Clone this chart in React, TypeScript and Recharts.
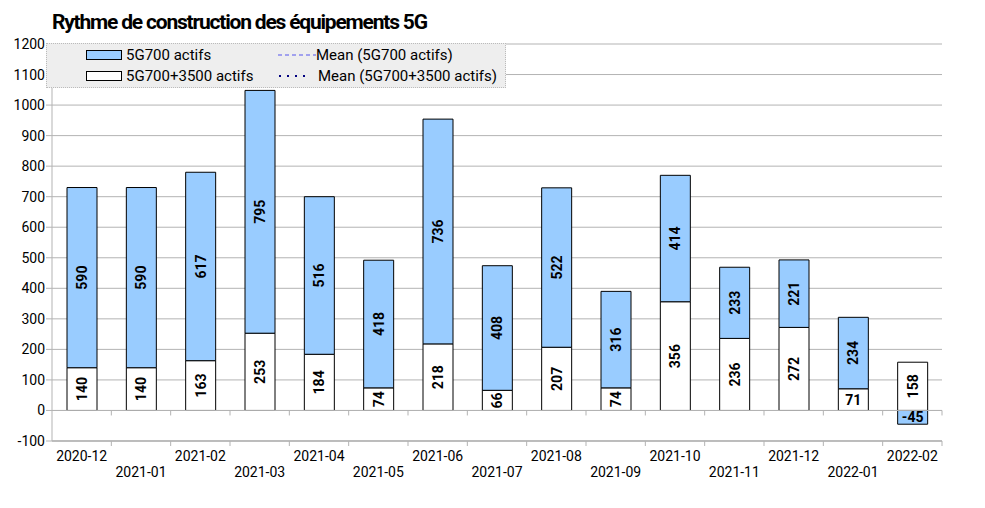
import React from "react";
import {
  BarChart,
  Bar,
  XAxis,
  YAxis,
  CartesianGrid,
  LabelList,
  ReferenceLine,
} from "recharts";

const months = [
  "2020-12", "2021-01", "2021-02", "2021-03", "2021-04", "2021-05", "2021-06", "2021-07",
  "2021-08", "2021-09", "2021-10", "2021-11", "2021-12", "2022-01", "2022-02",
];
const actifs5G700_3500 = [140, 140, 163, 253, 184, 74, 218, 66, 207, 74, 356, 236, 272, 71, 158];
const actifs5G700 = [590, 590, 617, 795, 516, 418, 736, 408, 522, 316, 414, 233, 221, 234, -45];
const yTicks = [-100, 0, 100, 200, 300, 400, 500, 600, 700, 800, 900, 1000, 1100, 1200];

const data = months.map((m, i) => ({
  month: m,
  both: actifs5G700_3500[i],
  g700: actifs5G700[i],
}));

const FONT = "Roboto, 'Liberation Sans', sans-serif";
const GRID = "#b3b3b3";

function MonthTick(props: any) {
  const { x, y, payload, index } = props;
  const dy = index % 2 === 1 ? 29 : 13;
  return (
    <text x={x} y={y + dy} textAnchor="middle" fontSize={14} fontFamily={FONT} fill="#000">
      {payload.value}
    </text>
  );
}

// line with small tick marks between the categories (as LibreOffice draws them)
function BoundaryTicks(props: any) {
  const { x1, x2, y1 } = props;
  const step = (x2 - x1) / months.length;
  return (
    <g>
      <line x1={x1} y1={y1} x2={x2} y2={y1} stroke={GRID} />
      {months.map((m, k) => (
        <line key={m} x1={x1 + (k + 1) * step} y1={y1} x2={x1 + (k + 1) * step} y2={y1 + 5} stroke={GRID} />
      ))}
    </g>
  );
}

// the two labels that the original keeps flat: 71 (2022-01) and -45 (2022-02)
function ValueLabel(props: any) {
  const { x, y, width, height, value, index, flatMonth } = props;
  const cx = x + width / 2;
  const cy = y + height / 2;
  const flat = months[index] === flatMonth;
  return (
    <text
      x={cx}
      y={cy}
      textAnchor="middle"
      dominantBaseline="central"
      fontSize={14}
      fontWeight="bold"
      fontFamily={FONT}
      fill="#000"
      transform={flat ? undefined : `rotate(-90 ${cx} ${cy})`}
    >
      {value}
    </text>
  );
}

function LegendBox() {
  const row: React.CSSProperties = { position: "absolute", display: "flex", alignItems: "center" };
  const txt: React.CSSProperties = { fontSize: 15, fontFamily: FONT, color: "#000", whiteSpace: "nowrap" };
  return (
    <div
      style={{
        position: "absolute",
        left: 46,
        top: 43,
        width: 460,
        height: 45,
        background: "#eeeeee",
        border: "1px dotted #bbbbbb",
        boxSizing: "border-box",
      }}
    >
      <div style={{ ...row, left: 39, top: 2 }}>
        <div style={{ width: 34, height: 8, background: "#99ccff", border: "1px solid #000", marginRight: 4 }} />
        <span style={txt}>5G700 actifs</span>
      </div>
      <div style={{ ...row, left: 39, top: 23 }}>
        <div style={{ width: 34, height: 8, background: "#fff", border: "1px solid #000", marginRight: 4 }} />
        <span style={txt}>5G700+3500 actifs</span>
      </div>
      <div style={{ ...row, left: 231, top: 2 }}>
        <svg width={38} height={10}>
          <line x1={0} y1={5} x2={38} y2={5} stroke="#5555ee" strokeDasharray="4 3" strokeWidth={1} />
        </svg>
        <span style={txt}>Mean (5G700 actifs)</span>
      </div>
      <div style={{ ...row, left: 231, top: 23 }}>
        <svg width={40} height={10}>
          <line x1={1} y1={5} x2={30} y2={5} stroke="#000080" strokeDasharray="2 6" strokeWidth={2} />
        </svg>
        <span style={txt}>Mean (5G700+3500 actifs)</span>
      </div>
    </div>
  );
}

export default function App() {
  return (
    <div style={{ position: "relative", width: 985, height: 508, background: "#fff" }}>
      <style>{`body{margin:0}`}</style>
      <BarChart
        width={985}
        height={508}
        data={data}
        stackOffset="sign"
        barSize={30}
        margin={{ top: 44, right: 43, bottom: 0, left: 7 }}
      >
        <CartesianGrid vertical={false} stroke={GRID} />
        <XAxis
          dataKey="month"
          stroke={GRID}
          tickLine={false}
          tickSize={5}
          tick={<MonthTick />}
          interval={0}
          height={67}
        />
        <YAxis
          domain={[-100, 1200]}
          ticks={yTicks}
          interval={0}
          width={45}
          stroke={GRID}
          tickSize={6}
          tickMargin={1}
          tick={{ fontSize: 14, fontFamily: FONT, fill: "#000" }}
        />
        <YAxis yAxisId="right" orientation="right" width={0} stroke={GRID} tick={false} />
        <ReferenceLine y={0} shape={<BoundaryTicks />} />
        <ReferenceLine y={-100} shape={<BoundaryTicks />} />
        <Bar dataKey="both" stackId="a" fill="#ffffff" stroke="#000" strokeWidth={1} isAnimationActive={false}>
          <LabelList dataKey="both" content={<ValueLabel flatMonth="2022-01" />} />
        </Bar>
        <Bar dataKey="g700" stackId="a" fill="#99ccff" stroke="#000" strokeWidth={1} isAnimationActive={false}>
          <LabelList dataKey="g700" content={<ValueLabel flatMonth="2022-02" />} />
        </Bar>
      </BarChart>
      <LegendBox />
      <div
        style={{
          position: "absolute",
          left: 52,
          top: 10,
          fontFamily: FONT,
          fontWeight: "bold",
          fontSize: 21,
          letterSpacing: -1.2,
          color: "#000",
          whiteSpace: "nowrap",
        }}
      >
        Rythme de construction des équipements 5G
      </div>
    </div>
  );
}
